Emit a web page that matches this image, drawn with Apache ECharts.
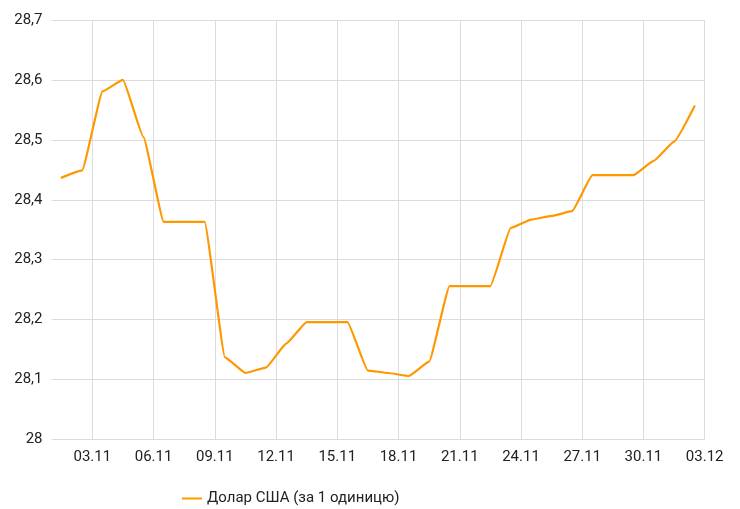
<!DOCTYPE html>
<html>
<head>
<meta charset="utf-8">
<script src="https://cdn.jsdelivr.net/npm/echarts@6/dist/echarts.min.js"></script>
<style>
html,body{margin:0;padding:0;background:#fff;}
#chart{width:740px;height:509px;}
</style>
</head>
<body>
<div id="chart"></div>
<script>
// Axis days 01.11 .. 03.12 (day boundaries)
var axisDays = ['01.11','02.11','03.11','04.11','05.11','06.11','07.11','08.11','09.11','10.11',
  '11.11','12.11','13.11','14.11','15.11','16.11','17.11','18.11','19.11','20.11',
  '21.11','22.11','23.11','24.11','25.11','26.11','27.11','28.11','29.11','30.11',
  '01.12','02.12','03.12'];
// Observation dates (one per day) and rate values
var dates = axisDays.slice(0, 32);
var values = [28.437, 28.449, 28.581, 28.600, 28.505, 28.363, 28.363, 28.363, 28.137, 28.111,
  28.120, 28.160, 28.196, 28.196, 28.196, 28.115, 28.111, 28.106, 28.130, 28.256,
  28.256, 28.256, 28.353, 28.367, 28.373, 28.381, 28.441, 28.441, 28.441, 28.465,
  28.497, 28.556];
var tickLabels = ['03.11','06.11','09.11','12.11','15.11','18.11','21.11','24.11','27.11','30.11','03.12'];
var seriesName = 'Долар США (за 1 одиницю)';

var tickPos = tickLabels.map(function (t) { return axisDays.indexOf(t); });
// each observation is placed in the middle of its day
var seriesData = dates.map(function (d, i) { return [axisDays.indexOf(d) + 0.5, values[i]]; });

var chart = echarts.init(document.getElementById('chart'), null, {renderer: 'canvas'});
chart.setOption({
  animation: false,
  textStyle: {fontFamily: 'Roboto'},
  grid: {left: 51.5, right: 35.3, top: 20, bottom: 69.5, containLabel: false},
  xAxis: {
    type: 'value',
    min: 0,
    max: axisDays.length - 1,
    axisLine: {show: false},
    axisTick: {show: false, customValues: tickPos},
    splitLine: {show: true, lineStyle: {color: '#dcdcdc', width: 1}},
    axisLabel: {
      customValues: tickPos,
      color: '#222',
      fontSize: 15,
      fontFamily: 'Roboto',
      margin: 10,
      formatter: function (v) { return axisDays[Math.round(v)]; }
    }
  },
  yAxis: {
    type: 'value',
    min: 28,
    max: 28.7,
    interval: 0.1,
    axisLine: {show: false},
    axisTick: {show: false},
    splitLine: {lineStyle: {color: '#dcdcdc', width: 1}},
    axisLabel: {
      color: '#222',
      fontSize: 15,
      fontFamily: 'Roboto',
      margin: 9,
      formatter: function (v) { return String(Math.round(v * 10) / 10).replace('.', ','); }
    }
  },
  legend: {
    left: 177,
    top: 486,
    icon: 'rect',
    itemWidth: 20,
    itemHeight: 2,
    itemGap: 6,
    textStyle: {color: '#222', fontSize: 15, fontFamily: 'Roboto'},
    data: [seriesName]
  },
  series: [{
    name: seriesName,
    type: 'line',
    data: seriesData,
    showSymbol: false,
    symbol: 'none',
    smooth: 0.12,
    smoothMonotone: 'x',
    lineStyle: {color: '#ff9800', width: 2.2, join: 'round', cap: 'round'},
    itemStyle: {color: '#ff9800'}
  }]
});
</script>
</body>
</html>
